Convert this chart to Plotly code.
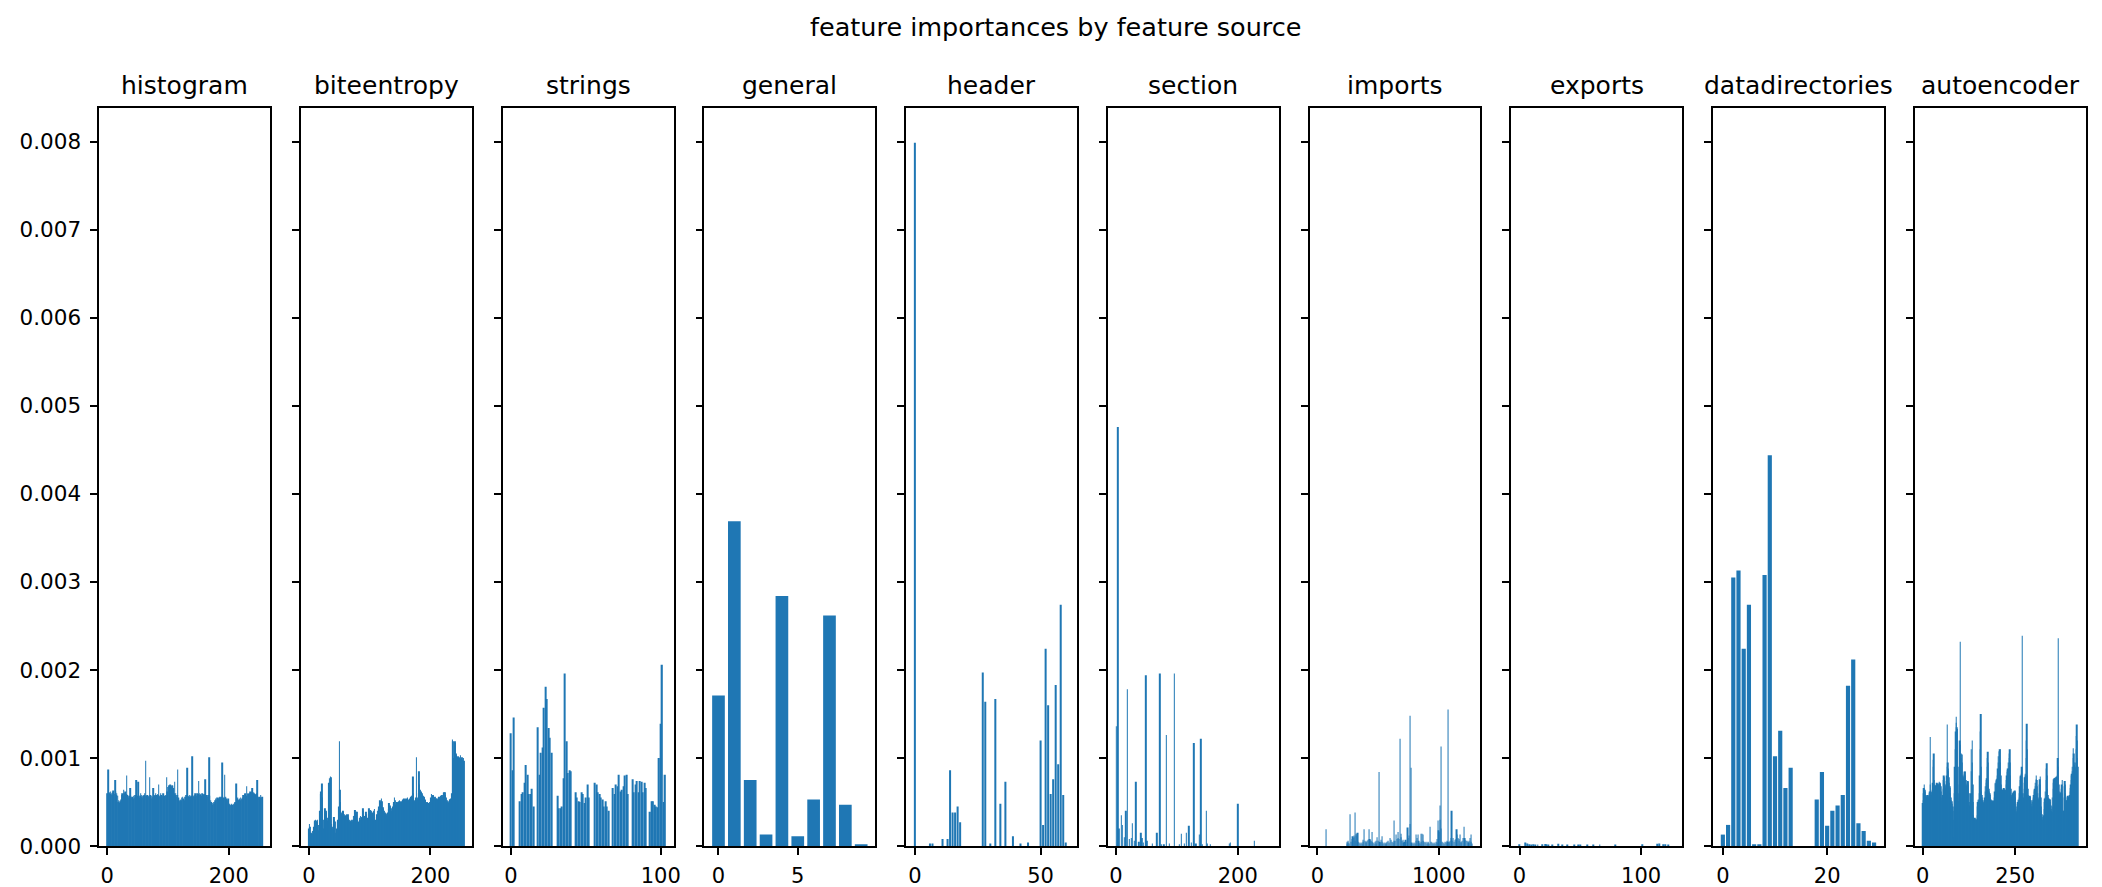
import plotly.graph_objects as go

# ---------------- data (importance values in units of 1e-5) ----------------
UNIT = 1e-5
TITLE = "feature importances by feature source"
sources = ["histogram", "biteentropy", "strings", "general", "header",
           "section", "imports", "exports", "datadirectories", "autoencoder"]
xtick_vals = [[0, 200], [0, 200], [0, 100], [0, 5], [0, 50],
              [0, 200], [0, 1000], [0, 100], [0, 20], [0, 250]]
ytick_vals = [0.000, 0.001, 0.002, 0.003, 0.004, 0.005, 0.006, 0.007, 0.008]

histogram = [
    60, 58, 87, 60, 61, 59, 62, 60, 58, 61, 63, 60, 59, 75, 62, 58,
    60, 57, 50, 52, 49, 51, 50, 53, 58, 60, 57, 64, 60, 58, 62, 59,
    80, 58, 56, 55, 57, 56, 66, 57, 55, 56, 52, 54, 57, 55, 58, 56,
    75, 57, 56, 73, 58, 55, 57, 60, 56, 58, 55, 57, 56, 58, 60, 97,
    57, 56, 58, 55, 57, 56, 78, 58, 55, 57, 54, 56, 66, 57, 56, 58,
    60, 58, 57, 59, 58, 70, 57, 56, 60, 58, 55, 57, 60, 58, 57, 56,
    58, 57, 78, 62, 67, 68, 69, 68, 70, 68, 67, 69, 68, 66, 60, 73,
    58, 60, 56, 58, 87, 55, 54, 52, 51, 53, 52, 55, 56, 54, 53, 52,
    56, 55, 58, 57, 89, 56, 57, 55, 58, 56, 57, 56, 102, 58, 57, 56,
    58, 60, 59, 57, 60, 58, 59, 74, 60, 58, 59, 57, 60, 59, 58, 57,
    59, 76, 57, 58, 57, 56, 58, 57, 101, 57, 52, 50, 48, 47, 49, 50,
    48, 50, 52, 54, 53, 55, 52, 54, 55, 56, 54, 55, 56, 95, 56, 55,
    54, 81, 55, 56, 54, 53, 52, 54, 48, 47, 48, 46, 47, 48, 47, 46,
    48, 47, 49, 50, 71, 52, 54, 55, 52, 53, 54, 52, 55, 54, 53, 55,
    58, 57, 59, 60, 58, 57, 68, 60, 59, 58, 60, 62, 61, 60, 62, 66,
    60, 61, 59, 60, 58, 59, 60, 75, 56, 55, 56, 54, 55, 58, 55, 56,
]

biteentropy = [
    20, 25, 22, 15, 11, 14, 17, 18, 22, 28, 29, 30, 29, 28, 30, 24,
    18, 22, 40, 59, 62, 71, 55, 30, 15, 20, 43, 38, 40, 38, 32, 29,
    30, 72, 77, 79, 78, 25, 22, 20, 25, 33, 30, 28, 15, 10, 20, 28,
    30, 45, 119, 64, 50, 38, 36, 38, 40, 39, 36, 34, 33, 35, 36, 34,
    36, 32, 30, 28, 29, 28, 30, 28, 30, 34, 30, 35, 41, 39, 37, 39,
    30, 26, 28, 32, 30, 34, 33, 32, 34, 43, 40, 33, 34, 35, 39, 36,
    30, 32, 36, 43, 40, 41, 40, 38, 36, 38, 40, 38, 42, 28, 30, 33,
    36, 40, 42, 45, 44, 52, 50, 54, 51, 43, 44, 42, 40, 38, 36, 37,
    35, 36, 38, 42, 49, 46, 44, 43, 40, 39, 45, 48, 50, 55, 52, 47,
    48, 50, 49, 51, 50, 52, 51, 50, 49, 51, 52, 53, 54, 52, 53, 54,
    52, 54, 55, 53, 52, 53, 54, 55, 56, 57, 58, 79, 60, 51, 52, 53,
    55, 101, 53, 55, 60, 85, 70, 64, 62, 61, 60, 58, 57, 56, 55, 53,
    52, 50, 49, 50, 49, 49, 50, 48, 49, 55, 59, 58, 57, 58, 56, 55,
    56, 54, 53, 54, 53, 55, 56, 54, 55, 57, 58, 56, 58, 60, 61, 59,
    61, 58, 55, 52, 50, 49, 51, 53, 53, 52, 54, 60, 121, 119, 98, 100,
    119, 117, 105, 103, 102, 101, 102, 100, 101, 103, 99, 100, 101, 98, 100, 97,
]

strings = [
    128, 86, 146, 0, 0, 0, 51, 59, 61, 72,
    92, 81, 59, 59, 65, 45, 0, 0, 135, 81,
    106, 112, 157, 181, 167, 134, 123, 106, 0, 0,
    0, 57, 43, 43, 45, 77, 196, 119, 83, 86,
    85, 0, 0, 61, 55, 51, 50, 61, 59, 49,
    55, 70, 55, 0, 0, 0, 72, 70, 61, 59,
    55, 53, 45, 51, 45, 40, 0, 0, 66, 59,
    70, 68, 81, 62, 64, 68, 80, 81, 59, 0,
    0, 76, 61, 70, 74, 61, 74, 73, 61, 72,
    66, 0, 0, 39, 51, 51, 47, 45, 44, 100,
    139, 206, 50, 81,
]

general = [171, 369, 75, 13, 284, 11, 53, 262, 47, 2]

header = [
    799, 0, 0, 0, 0, 0, 3, 3, 0, 0,
    0, 8, 0, 8, 86, 38, 38, 45, 27, 0,
    0, 0, 0, 0, 0, 0, 0, 197, 164, 0,
    3, 0, 167, 0, 48, 0, 73, 0, 0, 11,
    0, 0, 3, 0, 0, 4, 0, 0, 0, 0,
    120, 24, 224, 160, 59, 76, 183, 93, 274, 58,
    4, 0,
]

# sparse sources: feature index -> importance (all other features ~0)
section_size = 255
section_idx = [1, 3, 5, 9, 11, 14, 16, 19, 22, 25, 27, 30, 33, 38, 41, 43, 45, 49, 51, 60,
               67, 72, 75, 79, 83, 88, 96, 104, 107, 112, 116, 120, 124, 128, 131, 137,
               139, 142, 148, 150, 155, 186, 188, 200, 227]
section_val = [136, 476, 20, 35, 24, 10, 40, 178, 8, 9, 26, 6, 73, 5, 15, 9, 4, 194, 6, 3,
               15, 196, 2, 2, 126, 3, 196, 2, 14, 3, 15, 23, 4, 117, 3, 13,
               122, 2, 40, 3, 2, 3, 4, 48, 6]

imports_size = 1280
imports_idx = [69, 243, 247, 251, 256, 262, 268, 275, 282, 290, 296, 300, 304, 307, 312, 318,
               322, 326, 331, 336, 342, 350, 358, 365, 373, 379, 387, 392, 398, 403, 410, 418,
               425, 430, 435, 440, 447, 453, 460, 466, 474, 480, 486, 492, 497, 506, 512, 518,
               524, 530, 535, 541, 547, 555, 562, 568, 575, 582, 590, 599, 604, 612, 620, 628,
               635, 640, 647, 655, 663, 668, 674, 680, 686, 691, 697, 703, 710, 718, 726, 735,
               743, 748, 755, 762, 767, 771, 776, 785, 795, 804, 810, 815, 820, 827, 833, 838,
               845, 852, 857, 862, 867, 871, 878, 885, 892, 900, 908, 915, 922, 931, 936, 942,
               950, 958, 966, 975, 982, 989, 994, 998, 1002, 1007, 1011, 1016, 1022, 1028, 1035,
               1042, 1050, 1058, 1065, 1072, 1077, 1082, 1088, 1094, 1100, 1105, 1112, 1118,
               1125, 1132, 1140, 1146, 1152, 1158, 1164, 1170, 1174, 1180, 1186, 1192, 1200,
               1207, 1212, 1218, 1224, 1230, 1238, 1245, 1252, 1258, 1262, 1268, 1275]
imports_val = [19, 3, 5, 4, 6, 3, 36, 5, 8, 11, 9, 12, 10, 38, 6, 14,
               12, 14, 15, 5, 4, 3, 4, 3, 7, 5, 19, 6, 5, 4, 6, 7,
               19, 8, 7, 6, 5, 16, 4, 3, 5, 3, 6, 10, 6, 84, 5, 4,
               7, 11, 5, 3, 4, 3, 4, 3, 5, 6, 4, 9, 7, 5, 4, 6,
               29, 6, 13, 8, 16, 9, 8, 122, 14, 10, 6, 7, 4, 5, 7, 5,
               21, 9, 12, 148, 25, 89, 4, 3, 4, 3, 6, 13, 9, 13, 6, 4,
               3, 5, 14, 14, 13, 6, 5, 4, 5, 3, 4, 5, 3, 22, 5, 4,
               3, 4, 3, 5, 4, 8, 29, 18, 16, 30, 46, 20, 113, 5, 4,
               3, 5, 4, 6, 5, 155, 5, 4, 6, 9, 40, 6, 9,
               5, 7, 8, 19, 13, 9, 6, 8, 13, 5, 4, 6, 9,
               22, 9, 7, 6, 6, 5, 4, 6, 9, 13, 5, 3]

exports_size = 128
exports_idx = [0, 5, 6, 8, 10, 11, 13, 15, 19, 21, 22, 24, 27, 32, 35, 39, 45, 48, 50,
               56, 61, 66, 79, 101, 113, 115, 118, 120, 122]
exports_val = [2, 4, 3, 2, 1.5, 2, 1.5, 1.5, 2, 2.2, 2, 1.5, 1.5, 2.5, 1, 1, 1, 1.5, 1,
               1.5, 1, 1.5, 1, 2, 2.5, 3, 2, 2, 1.5]

datadirectories = [13, 24, 305, 313, 224, 274, 2, 2, 308, 444, 102, 131, 66, 89, 0,
                   0, 0, 0, 53, 84, 23, 40, 46, 58, 182, 212, 26, 17, 6, 4]

autoencoder = [
    49, 52, 60, 66, 70, 65, 62, 64, 58, 55, 57, 55, 54, 56, 58, 57, 55, 55, 60, 62,
    124, 70, 62, 58, 61, 60, 64, 72, 90, 98, 105, 75, 70, 68, 66, 69, 70, 68, 72, 70,
    68, 71, 69, 70, 70, 73, 72, 70, 71, 68, 62, 55, 52, 51, 58, 65, 75, 80, 78, 72,
    70, 68, 66, 70, 74, 80, 90, 138, 95, 88, 85, 78, 72, 68, 66, 60, 55, 52, 50, 51,
    48, 45, 40, 30, 10, 8, 60, 90, 110, 130, 147, 140, 135, 133, 133, 90, 60, 51, 55, 70,
    120, 232, 115, 105, 104, 100, 104, 95, 80, 73, 75, 78, 82, 85, 84, 85, 80, 75, 70, 68,
    70, 72, 74, 73, 70, 60, 50, 46, 44, 50, 60, 85, 110, 120, 95, 70, 50, 35, 30, 29,
    30, 32, 31, 30, 29, 31, 30, 35, 45, 50, 53, 52, 53, 60, 80, 110, 130, 150, 90, 62,
    58, 55, 52, 50, 49, 48, 50, 49, 55, 62, 68, 72, 75, 77, 90, 100, 107, 95, 75, 65,
    62, 60, 58, 55, 53, 52, 51, 51, 52, 51, 50, 52, 51, 51, 55, 62, 71, 72, 74, 75,
    76, 77, 80, 88, 95, 102, 107, 108, 110, 110, 95, 80, 70, 65, 64, 63, 64, 65, 64, 66,
    64, 65, 63, 64, 64, 70, 75, 80, 84, 86, 88, 88, 95, 100, 105, 110, 95, 80, 65, 58,
    56, 56, 58, 60, 60, 61, 62, 61, 62, 63, 62, 55, 45, 40, 38, 42, 48, 50, 52, 53,
    55, 60, 68, 75, 79, 80, 78, 82, 90, 239, 60, 50, 47, 55, 65, 72, 78, 80, 82, 100,
    120, 139, 110, 80, 65, 58, 56, 55, 56, 57, 56, 56, 52, 48, 42, 45, 50, 52, 53, 55,
    58, 62, 64, 65, 68, 72, 76, 80, 75, 68, 60, 55, 53, 53, 60, 70, 76, 79, 70, 55,
    45, 40, 36, 33, 30, 29, 29, 35, 42, 50, 54, 55, 62, 75, 88, 94, 80, 65, 58, 55,
    53, 54, 53, 53, 53, 50, 46, 42, 40, 39, 45, 55, 65, 72, 76, 77, 77, 77, 78, 77,
    78, 78, 79, 78, 80, 100, 236, 90, 70, 62, 59, 60, 61, 60, 62, 65, 70, 75, 60, 40,
    32, 40, 55, 68, 74, 70, 60, 52, 49, 52, 55, 56, 57, 56, 55, 56, 56, 58, 62, 66,
    70, 75, 80, 82, 85, 90, 100, 111, 105, 95, 92, 90, 88, 95, 110, 125, 138, 120, 100, 90,
]


def from_sparse(size, idx, val):
    arr = [0.0] * size
    for i, v in zip(idx, val):
        arr[i] = v
    return arr


series = [
    histogram, biteentropy, strings, general, header,
    from_sparse(section_size, section_idx, section_val),
    from_sparse(imports_size, imports_idx, imports_val),
    from_sparse(exports_size, exports_idx, exports_val),
    datadirectories, autoencoder,
]
series = [[v * UNIT for v in s] for s in series]

# ---------------- layout geometry (pixels) ----------------
W, H = 2102, 887
LEFT0, PITCH, PW = 91.5, 202.4, 171.5
TOP, BOTTOM = 101.0, 850.5
FONT = "DejaVu Sans"
BLUE = "#1f77b4"

ymax = 1.05 * max(max(s) for s in series)

fig = go.Figure()
annotations = []
for k, (name, vals) in enumerate(zip(sources, series)):
    n = len(vals)
    ax = "" if k == 0 else str(k + 1)
    fig.add_trace(go.Bar(
        x=list(range(n)), y=vals, marker=dict(color=BLUE, line=dict(width=0)),
        xaxis="x" + ax, yaxis="y" + ax, showlegend=False, hoverinfo="x+y",
    ))
    x0 = (LEFT0 + k * PITCH) / W
    x1 = (LEFT0 + k * PITCH + PW) / W
    margin = 0.05 * (n - 0.2)
    xr = [-0.4 - margin, n - 0.6 + margin]
    xa = dict(domain=[x0, x1], range=xr, anchor="y" + ax,
              tickmode="array", tickvals=xtick_vals[k],
              ticks="outside", ticklen=7, tickwidth=1.6, tickcolor="black",
              ticklabelstandoff=3,
              showline=True, linecolor="black", linewidth=1.6, mirror=True,
              showgrid=False, zeroline=False,
              tickfont=dict(family=FONT, size=21, color="black"))
    ya = dict(domain=[1 - BOTTOM / H, 1 - TOP / H], range=[0, ymax],
              anchor="x" + ax, tickmode="array", tickvals=ytick_vals,
              ticktext=["%.3f" % v for v in ytick_vals],
              ticks="outside", ticklen=7, tickwidth=1.6, tickcolor="black",
              ticklabelstandoff=5,
              showline=True, linecolor="black", linewidth=1.6, mirror=True,
              showgrid=False, zeroline=False, showticklabels=(k == 0),
              tickfont=dict(family=FONT, size=21.5, color="black"))
    if k > 0:
        ya["matches"] = "y"
    fig.layout["xaxis" + ax] = xa
    fig.layout["yaxis" + ax] = ya
    annotations.append(dict(
        text=name, x=(x0 + x1) / 2, y=1 - 79 / H, xref="paper", yref="paper",
        xanchor="center", yanchor="middle", showarrow=False,
        font=dict(family=FONT, size=25, color="black")))

annotations.append(dict(
    text=TITLE, x=0.5, y=1 - 19 / H, xref="paper", yref="paper",
    xanchor="center", yanchor="middle", showarrow=False,
    font=dict(family=FONT, size=25.5, color="black")))

fig.update_layout(
    width=W, height=H, autosize=False,
    margin=dict(l=0, r=0, t=0, b=0),
    paper_bgcolor="white", plot_bgcolor="white",
    bargap=0.2, annotations=annotations,
    font=dict(family=FONT, color="black"),
)

fig.write_html("out.html")
